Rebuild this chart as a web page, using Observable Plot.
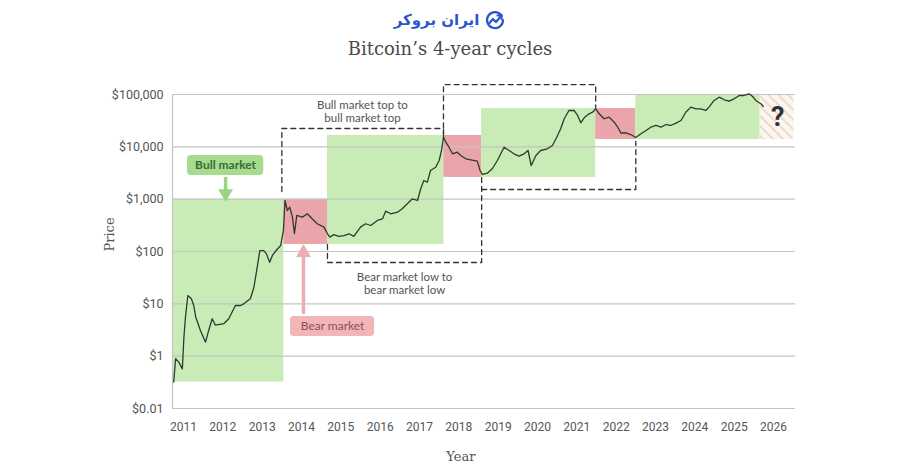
<!DOCTYPE html>
<html><head><meta charset="utf-8">
<script src="https://cdn.jsdelivr.net/npm/d3@7"></script>
<script src="https://cdn.jsdelivr.net/npm/@observablehq/plot@0.6"></script>
<style>
body{margin:0;background:#fff;}
#wrap{width:900px;height:471px;position:relative;overflow:hidden;background:#fff;}
#logo{position:absolute;top:9px;left:0;width:900px;display:flex;justify-content:center;align-items:center;gap:5px;}
#logo span{font-family:"DejaVu Sans",sans-serif;font-weight:bold;font-size:15px;color:#2c56cc;direction:rtl;}
#title{position:absolute;top:38px;left:0;width:900px;text-align:center;font-family:"DejaVu Serif",serif;font-size:18px;color:#4a4a4a;}
#chart{position:absolute;top:70px;left:0;}
</style></head>
<body><div id="wrap">
<div id="logo"><span>ایران بروکر</span><svg width="22" height="22" viewBox="0 0 22 22"><path d="M17.5 6.5 A8 8 0 1 0 19 11" fill="none" stroke="#2c56cc" stroke-width="2.2" stroke-linecap="round"/><polyline points="5.5,14 9,10 12,13 17,7" fill="none" stroke="#2c56cc" stroke-width="2.2" stroke-linejoin="round" stroke-linecap="round"/><polyline points="13.5,6.5 17.5,6 17.5,10" fill="none" stroke="#2c56cc" stroke-width="2.2" stroke-linejoin="round" stroke-linecap="round"/></svg></div>
<div id="title">Bitcoin’s 4-year cycles</div>
<div id="chart"></div>
</div>
<script>
// ---- Data ----
const years = [2010.75,2010.80,2010.88,2010.97,2011.01,2011.05,2011.11,2011.20,2011.26,2011.31,2011.43,2011.56,2011.64,2011.73,2011.81,2012.03,2012.15,2012.32,2012.45,2012.53,2012.70,2012.79,2012.86,2012.94,2013.04,2013.11,2013.19,2013.26,2013.37,2013.47,2013.54,2013.58,2013.64,2013.70,2013.77,2013.82,2013.88,2014.02,2014.15,2014.27,2014.40,2014.57,2014.66,2014.72,2014.82,2014.95,2015.08,2015.21,2015.33,2015.50,2015.63,2015.76,2015.93,2016.06,2016.14,2016.27,2016.44,2016.56,2016.69,2016.82,2016.95,2017.03,2017.11,2017.20,2017.28,2017.41,2017.50,2017.56,2017.61,2017.67,2017.75,2017.84,2017.96,2018.05,2018.18,2018.30,2018.47,2018.54,2018.60,2018.73,2018.85,2018.98,2019.15,2019.28,2019.40,2019.53,2019.66,2019.76,2019.84,2019.96,2020.08,2020.25,2020.38,2020.49,2020.59,2020.68,2020.80,2020.93,2021.02,2021.10,2021.20,2021.31,2021.40,2021.48,2021.57,2021.69,2021.82,2021.95,2022.04,2022.12,2022.25,2022.37,2022.50,2022.63,2022.76,2022.88,2023.01,2023.14,2023.27,2023.39,2023.52,2023.65,2023.77,2023.90,2024.03,2024.15,2024.28,2024.36,2024.49,2024.62,2024.75,2024.87,2025.00,2025.13,2025.25,2025.38,2025.47,2025.55,2025.68,2025.74];
const prices = [0.32,0.90,0.77,0.57,2.3,5.6,14.4,12.5,9.3,5.6,3.1,1.85,3.1,5.2,3.9,4.2,5.2,9.3,9.3,10,12.5,20.8,43,104,104,90,62,84,108,130,252,944,608,703,453,221,488,453,526,422,339,292,218,188,211,194,202,218,194,292,339,314,392,422,589,526,564,655,816,1016,944,1580,2275,2113,3532,4083,5483,8511,15280,12270,9840,7360,7900,6840,5910,5660,5320,3530,2964,3160,3810,5483,9840,8511,7360,6630,7360,8511,4400,6840,8511,9180,10600,15280,22130,34400,49500,49500,39700,28800,36900,42800,45900,53300,42800,34400,36900,29600,23750,18400,18400,17200,15100,17750,20500,23750,25600,23750,26700,25600,28300,31900,45900,57300,53300,53300,49500,57300,76900,88900,79300,74500,82800,95800,95800,103000,91600,76900,66500,59000];

const zoneStart = [2010.72,2013.55,2014.66,2017.62,2018.58,2021.48,2022.50,2025.66];
const zoneEnd   = [2013.55,2014.66,2017.62,2018.58,2021.48,2022.50,2025.66,2026.52];
const zoneLow   = [0.32,136,136,2600,2600,13800,13800,13800];
const zoneHigh  = [1000,1000,16500,16500,54000,54000,100000,100000];
const zoneType  = ["bull","bear","bull","bear","bull","bear","bull","unknown"];

const bracketTopA    = [[2013.50,1400],[2013.50,22400],[2017.61,22400],[2017.61,16000]];
const bracketTopB    = [[2017.61,15500],[2017.61,155000],[2021.48,155000],[2021.48,56000]];
const bracketBottomC = [[2014.66,136],[2014.66,61.7],[2018.58,61.7],[2018.58,2600]];
const bracketBottomD = [[2018.58,1530],[2022.50,1530],[2022.50,12650]];

const yTickValues = [0.1,1,10,100,1000,10000,100000];
const yTickLabels = ["$0.01","$1","$10","$100","$1,000","$10,000","$100,000"];
const xTickValues = [2011,2012,2013,2014,2015,2016,2017,2018,2019,2020,2021,2022,2023,2024,2025,2026];

const bracketNotes = [
  {x: 2015.55, y: 48500, text: "Bull market top to\nbull market top"},
  {x: 2016.62, y: 25, text: "Bear market low to\nbear market low"}
];
const bullTag = {x1: 2011.10, x2: 2013.04, y1: 2840, y2: 6840, x: 2012.07, y: 4400, text: "Bull market", arrowFrom: 2600, arrowTo: 1285};
const bearTag = {x1: 2013.72, x2: 2015.86, y1: 2.38, y2: 5.73, x: 2014.79, y: 3.69, text: "Bear market", arrowX: 2014.05, arrowFrom: 6.25, arrowTo: 95};
const unknownMark = {x: 2026.11, y: 36400, text: "?"};

// ---- Build tables ----
const series = years.map((t, i) => ({year: t, price: prices[i]}));
const zones = zoneStart.map((s, i) => ({x1: s, x2: zoneEnd[i], y1: zoneLow[i], y2: zoneHigh[i], type: zoneType[i]}));
const labelFor = new Map(yTickValues.map((v, i) => [v, yTickLabels[i]]));
const zoneFill = {bull: "#c9ebb5", bear: "#e9a5aa", unknown: "url(#hatch)"};
const xDom = [2010.72, 2026.56];
const GRID = "#c4c4c4";

const chart = Plot.plot({
  width: 900, height: 401,
  marginLeft: 172, marginRight: 105, marginTop: 24, marginBottom: 63,
  style: {fontFamily: "Roboto, sans-serif", fontSize: "12px", color: "#555", background: "transparent", overflow: "visible"},
  x: {domain: xDom},
  y: {type: "log", domain: [0.1, 100000]},
  marks: [
    Plot.rect(zones, {x1: "x1", x2: "x2", y1: "y1", y2: "y2", fill: d => zoneFill[d.type]}),
    Plot.ruleY(yTickValues, {x1: xDom[0], x2: xDom[1], stroke: GRID, strokeWidth: 1.2}),
    Plot.ruleX([xDom[0]], {y1: 0.1, y2: 100000, stroke: GRID, strokeWidth: 1.2}),
    Plot.axisY({ticks: yTickValues, tickFormat: d => labelFor.get(d), tickSize: 0, tickPadding: 9, label: null, fontSize: 12.5}),
    Plot.axisX({ticks: xTickValues, tickFormat: d => String(d), tickSize: 0, tickPadding: 14, label: null, fontSize: 12}),
    // brackets
    ...[bracketTopA, bracketTopB, bracketBottomC, bracketBottomD].map(b =>
      Plot.line(b, {x: d => d[0], y: d => d[1], stroke: "#333", strokeWidth: 1.3, strokeDasharray: "5,4", curve: "linear"})),
    Plot.text(bracketNotes, {x: "x", y: "y", text: "text", fill: "#555", fontSize: 11.5, fontFamily: "Lato, sans-serif", lineHeight: 1.15}),
    // price line
    Plot.line(series, {x: "year", y: "price", stroke: "#2f3a2f", strokeWidth: 1.3, curve: "linear"}),
    // bull tag
    Plot.rect([bullTag], {x1: "x1", x2: "x2", y1: "y1", y2: "y2", fill: "#a6dc8e", rx: 4}),
    Plot.text([bullTag], {x: "x", y: "y", text: "text", fill: "#3d6a34", fontSize: 12, fontFamily: "Lato, sans-serif", fontWeight: "bold"}),
    Plot.ruleX([bullTag], {x: "x", y1: "arrowFrom", y2: "arrowTo", stroke: "#9ad482", strokeWidth: 3.5}),
    Plot.dot([bullTag], {x: "x", y: "arrowTo", symbol: "triangle", rotate: 180, r: 5.5, fill: "#9ad482", stroke: null}),
    // bear tag
    Plot.rect([bearTag], {x1: "x1", x2: "x2", y1: "y1", y2: "y2", fill: "#f2b6b9", rx: 4}),
    Plot.text([bearTag], {x: "x", y: "y", text: "text", fill: "#8e4f56", fontSize: 12, fontFamily: "Lato, sans-serif"}),
    Plot.ruleX([bearTag], {x: "arrowX", y1: "arrowFrom", y2: "arrowTo", stroke: "#eaaeb2", strokeWidth: 3.5}),
    Plot.dot([bearTag], {x: "arrowX", y: "arrowTo", symbol: "triangle", r: 5.5, fill: "#eaaeb2", stroke: null}),
    // question mark
    Plot.text([unknownMark], {x: "x", y: "y", text: "text", fill: "#333", fontSize: 27, fontWeight: "bold", fontFamily: "Roboto, sans-serif"}),
    // axis titles
    Plot.text([{x: 2018.05, t: "Year"}], {x: "x", text: "t", frameAnchor: "bottom", dy: 52, fill: "#555", fontSize: 13, fontFamily: "DejaVu Serif, serif"}),
    Plot.text([{t: "Price"}], {text: "t", frameAnchor: "left", dx: -63, rotate: -90, fill: "#555", fontSize: 13, fontFamily: "DejaVu Serif, serif"})
  ]
});

// hatch pattern for the unknown zone
const ns = "http://www.w3.org/2000/svg";
const defs = document.createElementNS(ns, "defs");
defs.innerHTML = '<pattern id="hatch" patternUnits="userSpaceOnUse" width="7" height="7" patternTransform="rotate(-45)"><rect width="7" height="7" fill="#fbf6f0"/><line x1="0" y1="0" x2="0" y2="7" stroke="#e8d3bd" stroke-width="3"/></pattern>';
chart.insertBefore(defs, chart.firstChild);
document.getElementById("chart").appendChild(chart);
</script>
</body></html>
